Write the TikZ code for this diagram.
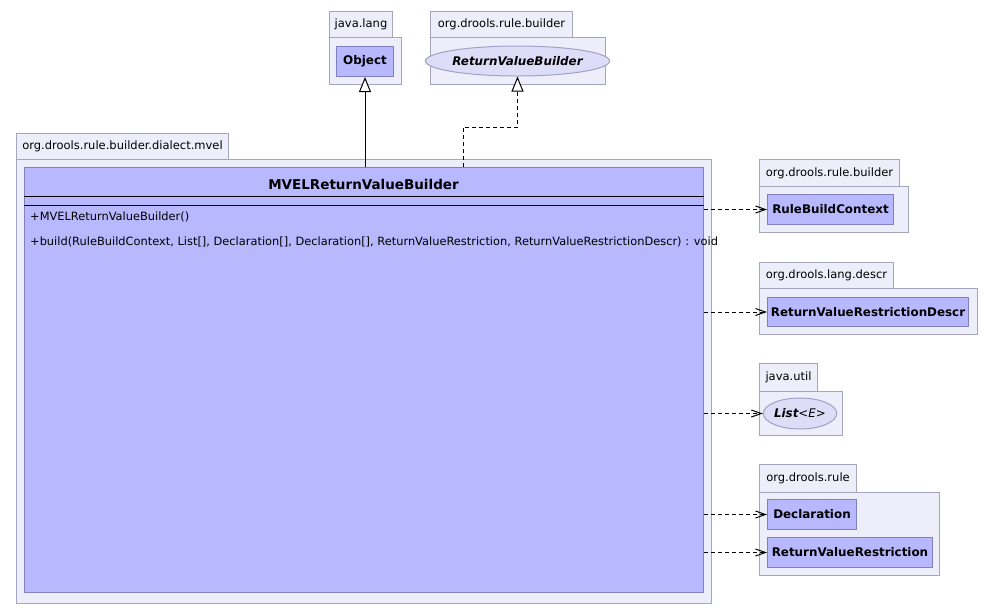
\documentclass[tikz,border=0pt]{standalone}
\usepackage{fontspec}
\setmainfont{DejaVu Sans}
\usetikzlibrary{arrows.meta,shapes.geometric}

\definecolor{pkgfill}{RGB}{238,238,250}
\definecolor{pkgline}{RGB}{165,165,190}
\definecolor{clsfill}{RGB}{184,184,255}
\definecolor{clsline}{RGB}{128,128,190}
\definecolor{ifcfill}{RGB}{221,221,248}
\definecolor{ifcline}{RGB}{160,160,200}

\tikzset{
  pkgpart/.style={draw=pkgline, fill=pkgfill, line width=1pt, inner sep=0pt,
    anchor=north west, font=\fontsize{11.5}{13}\selectfont},
  clsbox/.style={draw=clsline, fill=clsfill, line width=1pt, inner sep=0pt,
    anchor=north west, font=\fontsize{11.9}{14}\selectfont\bfseries},
  ifcbox/.style={ellipse, draw=ifcline, fill=ifcfill, line width=1pt, inner sep=0pt,
    font=\fontsize{11.9}{14}\selectfont\bfseries\itshape},
  member/.style={anchor=west, inner sep=0pt, font=\fontsize{11.4}{13}\selectfont},
  dep/.style={draw=black, line width=1pt, dash pattern=on 4pt off 3pt,
    -{Straight Barb[length=10pt,width=7pt,line width=1pt]}},
  gen/.style={draw=black, line width=1pt,
    -{Triangle[length=15pt,width=12pt,fill=white,line width=1pt]}},
  realz/.style={gen, dash pattern=on 4pt off 3pt},
}

\begin{document}
\begin{tikzpicture}[x=1pt,y=-1pt]
\fill[white] (0,0) rectangle (994,614);
\useasboundingbox (0,0) rectangle (994,614);

% package java.lang
\node[pkgpart, minimum width=63pt, minimum height=26pt] (pjl-tab) at (329,11) {java.lang};
\node[pkgpart, minimum width=72pt, minimum height=47pt] (pjl) at (329,37) {};
\node[clsbox, minimum width=57pt, minimum height=30pt] (obj) at (336,46) {Object};

% package org.drools.rule.builder (top)
\node[pkgpart, minimum width=142pt, minimum height=26pt] (prb-tab) at (430,11) {org.drools.rule.builder};
\node[pkgpart, minimum width=175pt, minimum height=47pt] (prb) at (430,37) {};
\node[ifcbox, minimum width=159pt, minimum height=30pt] (rvb) at (517.5,61) {ReturnValueBuilder};

% package org.drools.rule.builder.dialect.mvel
\node[pkgpart, minimum width=212pt, minimum height=26pt] (pmv-tab) at (16,133) {org.drools.rule.builder.dialect.mvel};
\node[pkgpart, minimum width=695pt, minimum height=444pt] (pmv) at (16,159) {};
\node[clsbox, minimum width=679pt, minimum height=425pt] (mvel) at (24,167) {};
\node[inner sep=0pt, font=\fontsize{13.5}{16}\selectfont\bfseries] (mvelname) at (363.5,184) {MVELReturnValueBuilder};
\draw[line width=1pt] ([yshift=-29pt]mvel.north west) -- ([yshift=-29pt]mvel.north east);
\draw[line width=1pt] ([yshift=-38pt]mvel.north west) -- ([yshift=-38pt]mvel.north east);
\node[member] (ctor) at (30,217) {+MVELReturnValueBuilder()};
\node[member] (build) at (30,242) {+build(RuleBuildContext, List[], Declaration[], Declaration[], ReturnValueRestriction, ReturnValueRestrictionDescr) : void};

% package org.drools.rule.builder (right)
\node[pkgpart, minimum width=140pt, minimum height=27pt] (prb2-tab) at (759,159) {org.drools.rule.builder};
\node[pkgpart, minimum width=149pt, minimum height=46pt] (prb2) at (759,186) {};
\node[clsbox, minimum width=126pt, minimum height=30pt] (rbc) at (767,194) {RuleBuildContext};

% package org.drools.lang.descr
\node[pkgpart, minimum width=134pt, minimum height=26pt] (pld-tab) at (759,262) {org.drools.lang.descr};
\node[pkgpart, minimum width=218pt, minimum height=46pt] (pld) at (759,288) {};
\node[clsbox, minimum width=201pt, minimum height=29pt] (rvrd) at (767,297) {ReturnValueRestrictionDescr};

% package java.util
\node[pkgpart, minimum width=58pt, minimum height=28pt] (pju-tab) at (759,363) {java.util};
\node[pkgpart, minimum width=83pt, minimum height=44pt] (pju) at (759,391) {};
\node[ifcbox, minimum width=66pt, minimum height=31pt] (list) at (800,413.5) {List\mdseries<E>};

% package org.drools.rule
\node[pkgpart, minimum width=97pt, minimum height=28pt] (pr-tab) at (759,464) {org.drools.rule};
\node[pkgpart, minimum width=180pt, minimum height=83pt] (pr) at (759,492) {};
\node[clsbox, minimum width=89pt, minimum height=30pt] (decl) at (767,499) {Declaration};
\node[clsbox, minimum width=165pt, minimum height=30pt] (rvr) at (767,537) {ReturnValueRestriction};

% inheritance and realization
\draw[gen] (mvel.north -| obj.south) -- (obj.south);
\coordinate (realstart) at (463,167);
\coordinate (realbend) at (517.5,127);
\draw[realz] (realstart) |- (realbend) -- (rvb.south);

% dependencies
\draw[dep] (mvel.east |- rbc.west) -- (rbc.west);
\draw[dep] (mvel.east |- rvrd.west) -- (rvrd.west);
\draw[dep] (mvel.east |- list.west) -- (list.west);
\draw[dep] (mvel.east |- decl.west) -- (decl.west);
\draw[dep] (mvel.east |- rvr.west) -- (rvr.west);
\end{tikzpicture}
\end{document}
